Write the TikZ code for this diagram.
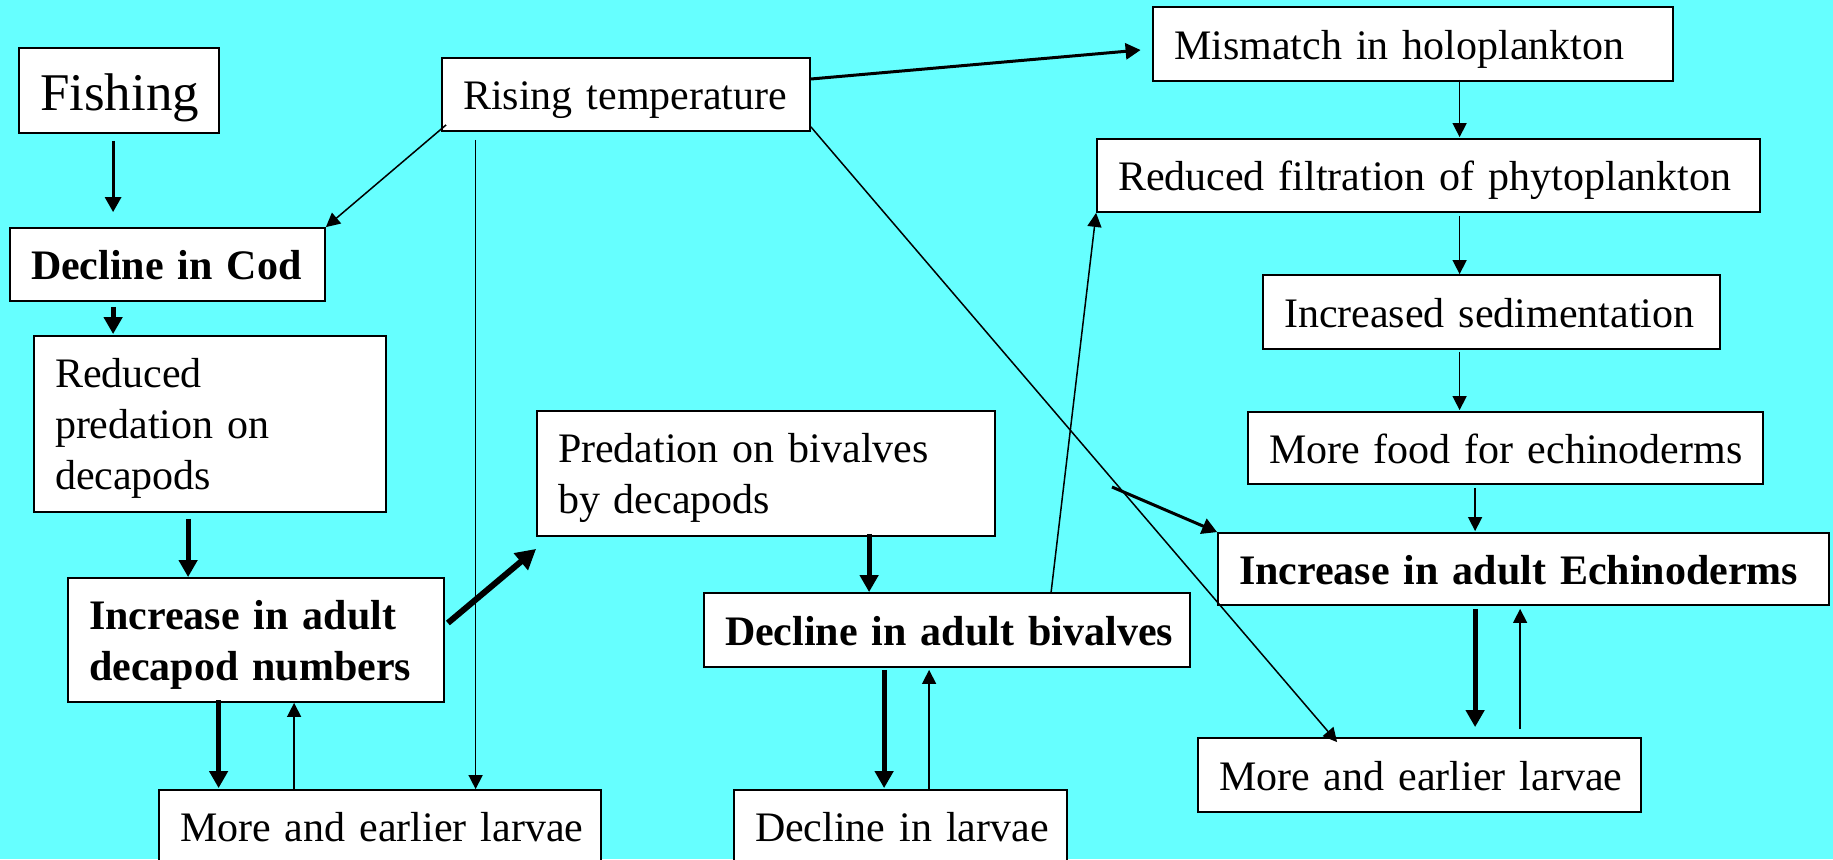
\documentclass[tikz,border=0pt]{standalone}
\usepackage{fontspec}
\setmainfont{Liberation Serif}
\usetikzlibrary{arrows.meta,calc}
\definecolor{bgcyan}{RGB}{102,255,255}
\begin{document}
\begin{tikzpicture}[x=1pt,y=-1pt,
  box/.style={draw=black, line width=1.8pt, fill=white, rectangle, inner xsep=21pt, inner ysep=0pt,
    align=left, font=\fontsize{42}{51}\selectfont, anchor=center},
  one/.style={text height=30.5pt, text depth=0pt},
  multi/.style={text height=38.5pt},
  thinarr/.style={line width=1.5pt, -{Triangle[length=14pt,width=14pt]}},
  medarr/.style={line width=3pt, -{Triangle[length=15pt,width=16pt]}},
  thickarr/.style={line width=5pt, -{Triangle[length=17pt,width=18pt]}},
  heavyarr/.style={line width=6pt, -{Triangle[length=20pt,width=21pt]}},
]
\useasboundingbox (0,0) rectangle (1833,859);
\clip (0,0) rectangle (1833,859);
\fill[bgcyan] (0,0) rectangle (1833,859);

% boxes
\node[box, minimum width=200pt, text width=158pt, minimum height=85pt, text height=39pt, text depth=0pt,
      font=\fontsize{53}{60}\selectfont] (fish) at (119,90.5) {Fishing};
\node[box, one, minimum width=368pt, text width=326pt, minimum height=73pt] (rise) at (626,94.5) {\mbox{Rising temperature}};
\node[box, one, minimum width=315pt, text width=273pt, minimum height=73pt] (cod) at (167.5,264.5) {\mbox{\bfseries Decline in Cod}};
\node[box, multi, minimum width=352pt, text width=310pt, minimum height=176pt] (redpred) at (210,424) {Reduced\\predation on\\decapods};
\node[box, multi, minimum width=376pt, text width=334pt, minimum height=124pt, font=\fontsize{42}{51}\selectfont\bfseries] (incdec) at (256,640) {\mbox{Increase in adult}\\\mbox{decapod numbers}};
\node[box, one, minimum width=442pt, text width=400pt, minimum height=73pt] (larvL) at (380,826.5) {\mbox{More and earlier larvae}};
\node[box, multi, minimum width=458pt, text width=416pt, minimum height=125pt] (predbiv) at (766,473.5) {\mbox{Predation on bivalves}\\\mbox{by decapods}};
\node[box, one, minimum width=486pt, text width=444pt, minimum height=74pt] (decbiv) at (947,630) {\mbox{\bfseries Decline in adult bivalves}};
\node[box, one, minimum width=333pt, text width=291pt, minimum height=73pt] (declarv) at (900.5,826.5) {\mbox{Decline in larvae}};
\node[box, one, minimum width=520pt, text width=478pt, minimum height=74pt] (mism) at (1413,44) {\mbox{Mismatch in holoplankton}};
\node[box, one, minimum width=663pt, text width=621pt, minimum height=73pt] (redfilt) at (1428.5,175.5) {\mbox{Reduced filtration of phytoplankton}};
\node[box, one, minimum width=457pt, text width=415pt, minimum height=74pt] (incsed) at (1491.5,312) {\mbox{Increased sedimentation}};
\node[box, one, minimum width=515pt, text width=473pt, minimum height=72pt] (morefood) at (1505.5,448) {\mbox{More food for echinoderms}};
\node[box, one, minimum width=611pt, text width=569pt, minimum height=72pt] (incech) at (1523.5,569) {\mbox{\bfseries Increase in adult Echinoderms}};
\node[box, one, minimum width=443pt, text width=401pt, minimum height=74pt] (larvR) at (1419.5,775) {\mbox{More and earlier larvae}};

\coordinate (branch) at (1112,487);

% connectors
\draw[medarr] ([xshift=95pt,yshift=-7pt]fish.south west) -- ([xshift=95pt,yshift=15pt]fish.south west |- cod.north);
\draw[thickarr] ([xshift=104pt,yshift=-5pt]cod.south west) -- ([xshift=104pt,yshift=1pt]cod.south west |- redpred.north);
\draw[thickarr] ([xshift=155pt,yshift=-6pt]redpred.south west) -- ([xshift=155pt]redpred.south west |- incdec.north);
\draw[thickarr] ([xshift=151.5pt,yshift=3pt]incdec.south west) -- ([xshift=151.5pt,yshift=1pt]incdec.south west |- larvL.north);
\draw[thinarr] ([xshift=136pt]larvL.north west) -- ([xshift=136pt]larvL.north west |- incdec.south);
\draw[thinarr] ([xshift=34.5pt,yshift=-8pt]rise.south west) -- ([xshift=34.5pt]rise.south west |- larvL.north);
\draw[thinarr] ([xshift=5pt,yshift=7pt]rise.south west) -- (cod.north east);
\draw[medarr] ([yshift=15.5pt]rise.east) -- ([xshift=-11.5pt,yshift=-6pt]mism.west);
\draw[thinarr] ([yshift=5pt]rise.south east) -- ([xshift=140pt,yshift=-5pt]larvR.north west);
\draw[heavyarr] ([xshift=3pt,yshift=17pt]incdec.east) -- ([yshift=-12pt]predbiv.south west);
\draw[thickarr] ([xshift=333pt,yshift=3pt]predbiv.south west) -- ([xshift=333pt]predbiv.south west |- decbiv.north);
\draw[thickarr] ([xshift=181pt,yshift=-2pt]decbiv.south west) -- ([xshift=181pt,yshift=1pt]decbiv.south west |- declarv.north);
\draw[thinarr] ([xshift=196pt]declarv.north west) -- ([xshift=196pt,yshift=-2pt]declarv.north west |- decbiv.south);
\draw[thinarr] ([xshift=348pt]decbiv.north west) -- (redfilt.south west);
\draw[thinarr] ([xshift=307.5pt,yshift=2pt]mism.south west) -- ([xshift=307.5pt,yshift=1pt]mism.south west |- redfilt.north);
\draw[thinarr] ([xshift=363.5pt,yshift=-3pt]redfilt.south west) -- ([xshift=363.5pt]redfilt.south west |- incsed.north);
\draw[thinarr] ([xshift=197.5pt,yshift=-2pt]incsed.south west) -- ([xshift=197.5pt,yshift=1pt]incsed.south west |- morefood.north);
\draw[thinarr] ([xshift=228pt,yshift=-3pt]morefood.south west) -- ([xshift=228pt,yshift=1pt]morefood.south west |- incech.north);
\draw[thickarr] ([xshift=258pt,yshift=-3pt]incech.south west) -- ([xshift=258pt,yshift=10pt]incech.south west |- larvR.north);
\draw[thinarr] ([xshift=323pt,yshift=8pt]larvR.north west) -- ([xshift=323pt,yshift=-3pt]larvR.north west |- incech.south);
\draw[medarr] (branch) -- (incech.north west);
\end{tikzpicture}
\end{document}
